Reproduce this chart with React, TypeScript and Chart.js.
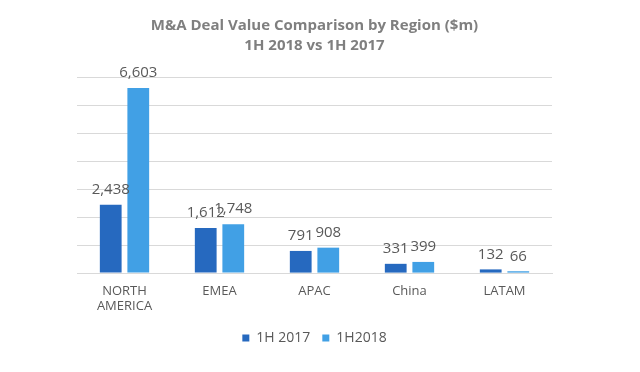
import React, { useEffect, useRef } from "react";
import { Chart, registerables } from "chart.js";

Chart.register(...registerables);

const categories: (string | string[])[] = [["NORTH", "AMERICA"], "EMEA", "APAC", "China", "LATAM"];
const series2017: number[] = [2438, 1612, 791, 331, 132];
const series2018: number[] = [6603, 1748, 908, 399, 66];
const seriesNames: string[] = ["1H 2017", "1H2018"];
const titleLines: string[] = ["M&A Deal Value Comparison by Region ($m)", "1H 2018 vs 1H 2017"];

const FONT = "'Open Sans', 'Liberation Sans', sans-serif";

const dataLabelPlugin = {
  id: "dataLabels",
  afterDatasetsDraw(chart: any) {
    const ctx = chart.ctx;
    ctx.save();
    ctx.font = `15px ${FONT}`;
    ctx.fillStyle = "#595959";
    ctx.textAlign = "center";
    ctx.textBaseline = "middle";
    chart.data.datasets.forEach((ds: any, i: number) => {
      const meta = chart.getDatasetMeta(i);
      meta.data.forEach((bar: any, j: number) => {
        const v = ds.data[j];
        ctx.fillText(v.toLocaleString("en-US"), bar.x, bar.y - 15);
      });
    });
    ctx.restore();
  },
};

export default function App() {
  const ref = useRef<HTMLCanvasElement>(null);
  useEffect(() => {
    const chart = new Chart(ref.current!, {
      type: "bar",
      data: {
        labels: categories,
        datasets: [
          { label: seriesNames[0], data: series2017, backgroundColor: "#2669BF", categoryPercentage: 0.58, barPercentage: 0.79 },
          { label: seriesNames[1], data: series2018, backgroundColor: "#41A0E5", categoryPercentage: 0.58, barPercentage: 0.79 },
        ],
      },
      options: {
        responsive: false,
        animation: false,
        layout: { padding: { left: 77, right: 88, top: 8, bottom: 17 } },
        scales: {
          x: {
            grid: { display: false },
            border: { display: true, color: "#d9d9d9" },
            ticks: { color: "#595959", font: { family: FONT, size: 13, lineHeight: 1.15 }, padding: 3, maxRotation: 0 },
            afterFit: (axis: any) => { axis.height += 2; },
          },
          y: {
            min: 0,
            max: 7000,
            ticks: { display: false, stepSize: 1000 },
            grid: { color: "#d9d9d9", drawTicks: false },
            border: { display: false },
            afterFit: (axis: any) => { axis.width = 0; },
          },
        },
        plugins: {
          title: {
            display: true,
            text: titleLines,
            color: "#7f7f7f",
            font: { family: FONT, size: 15, weight: "bold", lineHeight: 1.3 },
            padding: { top: 8, bottom: 22 },
          },
          legend: {
            position: "bottom",
            labels: { color: "#595959", font: { family: FONT, size: 14 }, boxWidth: 7, boxHeight: 7, padding: 12 },
          },
          tooltip: { enabled: false },
        },
      },
      plugins: [dataLabelPlugin],
    });
    return () => chart.destroy();
  }, []);
  return (
    <div style={{ position: "fixed", left: 0, top: 0, width: 640, height: 372, background: "#fff" }}>
      <canvas ref={ref} width={640} height={372} />
    </div>
  );
}
